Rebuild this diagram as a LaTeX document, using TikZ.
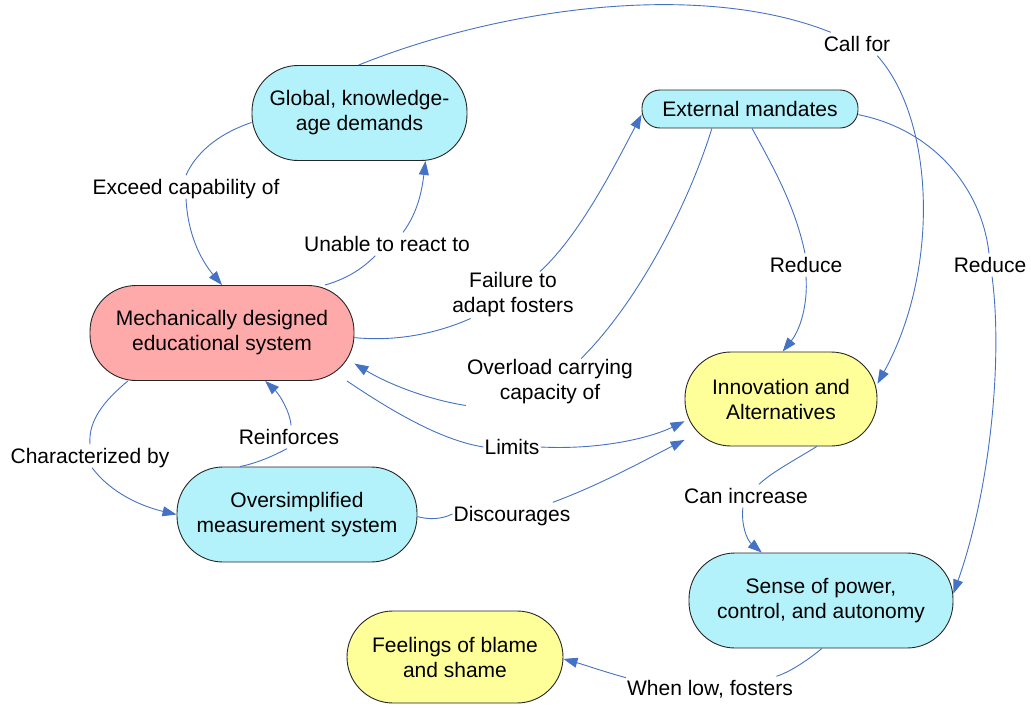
\documentclass[tikz,border=0pt]{standalone}
\usepackage{fontspec}
\setmainfont{Liberation Sans}
\usetikzlibrary{arrows.meta}
\definecolor{cyanfill}{RGB}{180,242,251}
\definecolor{yellowfill}{RGB}{255,255,153}
\definecolor{pinkfill}{RGB}{255,170,170}
\definecolor{edgeblue}{RGB}{68,114,196}
\begin{document}
\begin{tikzpicture}[x=1pt,y=-1pt,
  box/.style={rectangle, draw=black!85, line width=0.9pt, rounded corners=46pt, inner sep=0pt, align=center, font=\fontsize{21}{25}\selectfont},
  lab/.style={inner sep=1pt, align=center, font=\fontsize{21}{25}\selectfont, text height=18pt, text depth=3pt},
  labtwo/.style={inner sep=1pt, align=center, font=\fontsize{21}{25}\selectfont},
  conn/.style={draw=edgeblue, line width=0.9pt},
  arr/.style={conn, -{Triangle[length=14pt,width=10pt]}}]
\useasboundingbox (0,0) rectangle (1031,707);
% concepts
\node[box, fill=cyanfill, minimum width=215pt, minimum height=95pt] (glob) at (359.5,113) {Global, knowledge-\\age demands};
\node[box, fill=pinkfill, minimum width=264pt, minimum height=95pt] (mech) at (222,333) {Mechanically designed\\educational system};
\node[box, fill=cyanfill, minimum width=216pt, minimum height=38pt, rounded corners=18pt] (ext) at (750,109) {External mandates};
\node[box, fill=cyanfill, minimum width=240pt, minimum height=95pt] (over) at (297,514.5) {Oversimplified\\measurement system};
\node[box, fill=yellowfill, minimum width=192pt, minimum height=94pt] (innov) at (781,399) {Innovation and\\Alternatives};
\node[box, fill=cyanfill, minimum width=264pt, minimum height=95pt] (sense) at (821,600.5) {Sense of power,\\control, and autonomy};
\node[box, fill=yellowfill, minimum width=216pt, minimum height=92pt] (feel) at (455,657) {Feelings of blame\\and shame};
% link labels
\node[lab] (lA) at (186,187) {Exceed capability of};
\node[lab] (lB) at (387,244) {Unable to react to};
\node[labtwo] (lC) at (513,295) {Failure to\\adapt fosters};
\node[labtwo] (lD) at (550,382) {Overload carrying\\capacity of};
\node[lab] (lE) at (512,447) {Limits};
\node[lab] (lF) at (90,456) {Characterized by};
\node[lab] (lG) at (289,437) {Reinforces};
\node[lab] (lH) at (512,514) {Discourages};
\node[lab] (lI) at (806,265) {Reduce};
\node[lab] (lJ) at (857,44) {Call for};
\node[lab] (lK) at (990,265) {Reduce};
\node[lab] (lL) at (746,496) {Can increase};
\node[lab] (lM) at (710,688) {When low, fosters};
% connectors
\draw[conn] (glob.185) .. controls (215,135) and (195,155) .. (lA.north);
\draw[arr] (lA.south) .. controls (188,240) and (205,265) .. (mech.90);
\draw[conn] (mech.25) .. controls (350,278) and (365,266) .. (lB.-135);
\draw[arr] (lB.36) .. controls (418,212) and (422,190) .. (glob.-36);
\draw[conn] (mech.-2) .. controls (400,342) and (440,332) .. (lC.209);
\draw[arr] (lC.41) .. controls (580,235) and (615,165) .. (ext.183);
\draw[conn] (ext.207) .. controls (690,200) and (640,300) .. (lD.37);
\draw[arr] (lD.south west) .. controls (430,400) and (390,385) .. (mech.-13);
\draw[conn] (mech.-21) .. controls (390,410) and (440,440) .. (lE.west);
\draw[arr] (lE.east) .. controls (600,450) and (650,438) .. (innov.193);
\draw[conn] (mech.207) .. controls (105,400) and (88,420) .. (lF.north);
\draw[arr] (lF.-80) .. controls (110,492) and (140,506) .. (over.180);
\draw[conn] (over.140) .. controls (258,463) and (275,455) .. (lG.-100);
\draw[arr] (lG.80) .. controls (290,412) and (280,395) .. (mech.-48);
\draw[conn] (over.-1) .. controls (430,520) and (442,519) .. (lH.west);
\draw[arr] (lH.16) .. controls (600,485) and (645,460) .. (innov.203);
\draw[conn] (ext.-84) .. controls (772,165) and (795,205) .. (lI.95);
\draw[arr] (lI.south) .. controls (808,305) and (800,330) .. (innov.88);
\draw[conn] (glob.91) .. controls (500,8) and (700,-20) .. (lJ.156);
\draw[arr] (lJ.-30) .. controls (935,120) and (940,270) .. (innov.9);
\draw[conn] (ext.-3) .. controls (935,130) and (982,190) .. (lK.95);
\draw[arr] (lK.-80) .. controls (1003,360) and (990,490) .. (sense.3);
\draw[conn] (innov.-53) .. controls (795,460) and (772,472) .. (lL.42);
\draw[arr] (lL.-105) .. controls (741,525) and (747,540) .. (sense.141);
\draw[conn] (sense.-89) .. controls (808,660) and (790,672) .. (lM.10);
\draw[arr] (lM.173) .. controls (605,672) and (585,665) .. (feel.-1);
\end{tikzpicture}
\end{document}
